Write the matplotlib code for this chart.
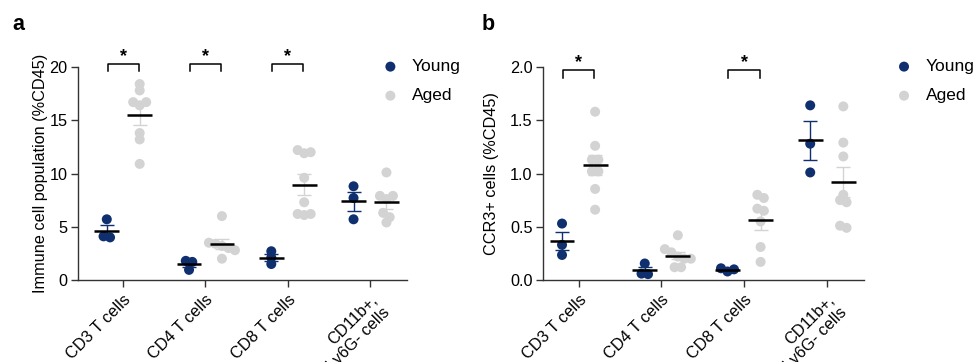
import matplotlib.pyplot as plt
import numpy as np

plt.rcParams['font.family'] = ['Liberation Sans', 'DejaVu Sans']

categories = ['CD3 T cells', 'CD4 T cells', 'CD8 T cells', 'CD11b+,\nLy6G- cells']

# panel a: immune cell population (%CD45)
young_pop = [[5.7, 4.1, 4.0], [1.8, 1.7, 0.95], [2.7, 2.1, 1.5], [8.8, 7.7, 5.7]]
aged_pop = [[18.4, 17.8, 16.7, 16.7, 16.4, 13.8, 13.2, 10.9],
            [6.0, 3.5, 3.4, 3.2, 3.0, 2.8, 2.0],
            [12.2, 12.0, 11.9, 9.6, 7.3, 6.2, 6.2, 6.1],
            [10.1, 7.9, 7.9, 7.6, 6.3, 5.9, 5.4]]

# panel b: CCR3+ cells (%CD45)
young_ccr3 = [[0.53, 0.33, 0.235], [0.155, 0.06, 0.055], [0.11, 0.10, 0.08], [1.64, 1.28, 1.01]]
aged_ccr3 = [[1.58, 1.26, 1.13, 1.13, 1.02, 1.02, 0.855, 0.66],
             [0.42, 0.29, 0.26, 0.22, 0.2, 0.2, 0.12, 0.12],
             [0.8, 0.77, 0.67, 0.65, 0.55, 0.31, 0.17],
             [1.63, 1.29, 1.16, 0.8, 0.75, 0.73, 0.51, 0.49]]

sig_a = [0, 1, 2]
sig_b = [0, 2]

YOUNG = '#0f2f6e'
AGED = '#d3d3d3'
SPINE = '#333333'
DOT_PX = 10
FS = 11.7


def swarm_x(ax, x0, values):
    """Spread points of similar height symmetrically around the group centre (pixel space)."""
    pts = ax.transData.transform(np.column_stack([np.full(len(values), x0), values]))
    order = np.argsort(-np.asarray(values))
    step = DOT_PX * 0.65
    bins, cur = [], [order[0]]
    for a, b in zip(order[:-1], order[1:]):
        if abs(pts[a][1] - pts[b][1]) < DOT_PX * 0.5:
            cur.append(b)
        else:
            bins.append(cur)
            cur = [b]
    bins.append(cur)
    xs = np.zeros(len(values))
    inv = ax.transData.inverted()
    for grp in bins:
        n = len(grp)
        offs = (np.arange(n) - (n - 1) / 2) * step
        if n == 3:
            offs = np.array([-step, step, 0.0])
        for j, k in enumerate(grp):
            xs[k] = inv.transform((pts[k][0] + offs[j], pts[k][1]))[0]
    return xs


def draw_panel(ax, young, aged, ymax, yticks, ylabel, sig, sig_y, letter):
    ax.set_xlim(*ax._xl)
    ax.set_ylim(0, ymax)
    for i in range(len(categories)):
        for vals, off, col in [(young[i], -0.2, YOUNG), (aged[i], 0.2, AGED)]:
            vals = np.asarray(vals)
            xs = swarm_x(ax, i + off, vals)
            ax.scatter(xs, vals, s=(DOT_PX * 0.72) ** 2, color=col, edgecolor='none',
                       zorder=2, clip_on=False)
            m = vals.mean()
            sem = vals.std(ddof=1) / np.sqrt(len(vals))
            ax.errorbar(i + off, m, yerr=sem, color=col, capsize=4.7, elinewidth=1,
                        capthick=1, zorder=3)
            ax.plot([i + off - 0.15, i + off + 0.15], [m, m], color='black', lw=1.8, zorder=4,
                    solid_capstyle='butt')
    for i in sig:
        y0, y1 = sig_y
        ax.plot([i - 0.19, i - 0.19, i + 0.19, i + 0.19], [y0, y1, y1, y0], color='black',
                lw=1.1, clip_on=False)
        ax.annotate('*', xy=(i, y1), xytext=(0, -1), textcoords='offset points',
                    ha='center', va='bottom', fontsize=13, fontweight='bold',
                    annotation_clip=False)
    ax.set_yticks(yticks)
    ax.set_xticks(range(len(categories)))
    ax.set_xticklabels(categories, rotation=45, ha='right', rotation_mode='anchor',
                       fontsize=FS)
    ax.tick_params(axis='both', labelsize=FS, length=5, width=1, color=SPINE, direction='out')
    ax.tick_params(axis='y', pad=2.5)
    ax.tick_params(axis='x', pad=4)
    for s in ['top', 'right']:
        ax.spines[s].set_visible(False)
    for s in ['left', 'bottom']:
        ax.spines[s].set_color(SPINE)
        ax.spines[s].set_linewidth(1)
    ax.set_ylabel(ylabel, fontsize=FS, labelpad=ax._lp)
    h1 = ax.scatter([], [], s=(DOT_PX * 0.72) ** 2, color=YOUNG, edgecolor='none')
    h2 = ax.scatter([], [], s=(DOT_PX * 0.72) ** 2, color=AGED, edgecolor='none')
    ax.legend([h1, h2], ['Young', 'Aged'], loc='upper left', frameon=False,
              bbox_to_anchor=ax._leg, fontsize=12.5, handletextpad=0.75, labelspacing=0.8,
              borderaxespad=0, handlelength=1.0)
    ax.text(ax._let, 1.2, letter, transform=ax.transAxes, fontsize=15.5, fontweight='bold',
            ha='left', va='center')


fig = plt.figure(figsize=(9.76, 3.62), dpi=100)
ax_a = fig.add_axes([78 / 976, 1 - 280 / 362, 329 / 976, 213 / 362])
ax_b = fig.add_axes([543 / 976, 1 - 280 / 362, 321 / 976, 213 / 362])
ax_a._xl = (-0.55, 3.45)
ax_b._xl = (-0.43, 3.45)
ax_a._leg = (0.902, 1.07)
ax_b._leg = (1.076, 1.07)
ax_a._let = -0.2
ax_b._let = -0.19
ax_a._lp = 1
ax_b._lp = 8

draw_panel(ax_a, young_pop, aged_pop, 20, [0, 5, 10, 15, 20],
           'Immune cell population (%CD45)', sig_a, (19.6, 20.3), 'a')
draw_panel(ax_b, young_ccr3, aged_ccr3, 2.0, [0.0, 0.5, 1.0, 1.5, 2.0],
           'CCR3+ cells (%CD45)', sig_b, (1.90, 1.97), 'b')
ax_b.set_yticklabels(['0.0', '0.5', '1.0', '1.5', '2.0'])

fig.savefig('out.png', dpi=100)
